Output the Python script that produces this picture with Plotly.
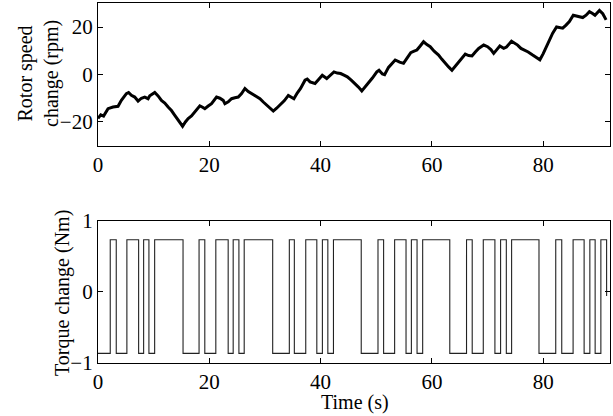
import plotly.graph_objects as go
from plotly.subplots import make_subplots

# Rotor speed change (rpm) versus time (s)
speed_t = [0.0, 0.5, 1.0, 1.8, 2.7, 3.6, 4.2, 5.1, 5.5, 6.0, 6.6, 7.2, 7.8, 8.4, 9.0, 9.3,
           10.2, 10.8, 11.4, 12.0, 12.6, 13.2, 13.8, 14.5, 15.2, 15.7, 16.2, 16.8, 17.4,
           18.3, 18.8, 19.2, 19.8, 20.4, 21.3, 21.9, 22.5, 22.8, 23.4, 24.0, 24.6, 25.2,
           25.8, 26.4, 27.0, 27.6, 28.3, 29.1, 29.7, 30.3, 31.0, 31.5, 32.1, 32.7, 33.5,
           34.2, 34.7, 35.2, 35.8, 36.4, 37.2, 37.6, 38.1, 39.0, 39.6, 40.3, 41.1, 41.7,
           42.4, 43.0, 43.6, 44.2, 44.8, 45.5, 46.2, 46.8, 47.4, 48.0, 48.6, 49.3, 50.1,
           50.5, 51.1, 51.5, 52.2, 52.8, 53.4, 54.2, 54.9, 55.5, 56.2, 56.8, 57.3, 57.9,
           58.5, 59.1, 59.7, 60.4, 61.2, 61.8, 62.4, 63.0, 63.6, 64.2, 64.8, 65.4, 66.0,
           66.6, 67.2, 67.8, 68.4, 69.3, 70.0, 70.6, 71.1, 71.7, 72.2, 72.9, 73.4, 74.3,
           74.9, 75.4, 76.0, 76.6, 77.3, 78.1, 78.8, 79.4, 80.0, 80.6, 81.2, 81.7, 82.4,
           83.0, 83.5, 84.1, 84.7, 85.4, 86.2, 87.1, 87.7, 88.3, 88.8, 89.3, 90.1, 90.7,
           91.3]
speed_rpm = [-18.5, -17.0, -17.5, -14.4, -13.7, -13.4, -10.9, -8.1, -7.6, -8.8, -9.5, -11.2,
             -10.0, -9.5, -10.2, -9.0, -7.6, -9.0, -10.9, -12.0, -13.7, -15.2, -17.2, -19.5,
             -21.8, -20.0, -18.6, -17.5, -15.8, -13.2, -13.8, -14.4, -13.3, -12.3, -9.5,
             -10.0, -10.9, -12.3, -11.5, -10.2, -9.8, -9.5, -8.0, -5.9, -7.2, -8.1, -9.0,
             -10.2, -11.6, -13.0, -14.5, -15.4, -14.2, -13.0, -11.0, -8.8, -9.6, -10.2,
             -7.8, -5.9, -2.4, -1.9, -3.1, -3.8, -2.2, -0.3, -1.7, -0.2, 1.1, 0.6, 0.4,
             -0.3, -1.0, -2.4, -3.8, -5.3, -6.9, -5.3, -3.8, -1.5, 1.1, 1.8, 0.2, -0.1,
             3.0, 4.5, 6.1, 5.2, 4.7, 6.8, 9.2, 9.8, 10.3, 12.0, 13.8, 12.6, 11.7, 9.8,
             8.2, 6.4, 4.7, 3.2, 1.8, 3.6, 5.3, 6.8, 8.6, 8.0, 7.8, 9.5, 11.0, 12.4, 11.7,
             10.5, 8.9, 10.6, 12.0, 11.0, 11.6, 14.0, 13.0, 12.4, 11.0, 10.3, 9.5, 8.2,
             7.2, 6.2, 8.8, 12.0, 15.0, 17.4, 20.0, 19.8, 19.5, 20.8, 22.3, 25.0, 24.6,
             24.0, 25.0, 26.5, 25.8, 25.0, 27.0, 25.6, 23.0]

# Torque change (Nm): step signal, each level held from its start time
torque_t = [0.0, 2.20, 3.28, 5.19, 7.30, 8.20, 9.15, 10.18, 15.28, 18.16, 19.19, 21.17,
            23.39, 24.29, 25.32, 26.27, 31.39, 34.38, 35.28, 37.33, 39.32, 40.32, 41.30,
            42.31, 47.30, 50.31, 51.32, 53.30, 55.35, 56.31, 57.33, 58.34, 63.21, 66.22,
            67.24, 69.23, 71.32, 72.34, 73.37, 74.32, 79.24, 82.25, 83.33, 85.37, 87.35,
            88.38, 89.33, 90.36, 91.39]
torque_nm = [-0.865, 0.733, -0.865, 0.733, -0.865, 0.733, -0.865, 0.733, -0.865, 0.733,
             -0.865, 0.733, -0.865, 0.733, -0.865, 0.733, -0.865, 0.733, -0.865, 0.733,
             -0.865, 0.733, -0.865, 0.733, -0.865, 0.733, -0.865, 0.733, -0.865, 0.733,
             -0.865, 0.733, -0.865, 0.733, -0.865, 0.733, -0.865, 0.733, -0.865, 0.733,
             -0.865, 0.733, -0.865, 0.733, -0.865, 0.733, -0.865, 0.733, -0.06]

x_ticks = [0, 20, 40, 60, 80]
speed_ticks = [-20, 0, 20]
torque_ticks = [-1, 0, 1]

FONT = "Liberation Serif, Times New Roman, serif"
W, H = 613, 416
ML, MR, MT, MB = 98, 3, 3, 53
PLOT_H = H - MT - MB
PLOT_W = W - ML - MR


def px_x(px):
    return (px - ML) / PLOT_W


def px_y(py):
    return (H - MB - py) / PLOT_H


def dom(lo, hi):
    return [max(0.0, min(1.0, lo)), max(0.0, min(1.0, hi))]


fig = make_subplots(rows=2, cols=1, vertical_spacing=0.0)

fig.add_trace(go.Scatter(x=speed_t, y=speed_rpm, mode="lines",
                         line=dict(color="black", width=3.0), hoverinfo="skip"),
              row=1, col=1)
fig.add_trace(go.Scatter(x=torque_t, y=torque_nm, mode="lines",
                         line=dict(color="#222222", width=1.1, shape="hv"), hoverinfo="skip"),
              row=2, col=1)

axis_style = dict(showline=True, linecolor="black", linewidth=1.2, mirror="allticks",
                  ticks="inside", ticklen=5, tickcolor="black", showgrid=False,
                  zeroline=False, automargin=False,
                  tickfont=dict(family=FONT, size=21, color="black"))

fig.update_xaxes(range=[0, 92], tickvals=x_ticks, domain=[0, 1], **axis_style)
fig.update_yaxes(**axis_style)
fig.update_yaxes(range=[-30, 30], tickvals=speed_ticks,
                 domain=dom(px_y(145.7), px_y(3.3)), row=1, col=1)
fig.update_yaxes(range=[-1, 1], tickvals=torque_ticks,
                 domain=dom(px_y(363.0), px_y(220.7)), row=2, col=1)

annotations = [
    dict(text="Rotor speed<br>change (rpm)", x=px_x(39), y=px_y(74),
         textangle=-90, font=dict(family=FONT, size=20, color="black")),
    dict(text="Torque change (Nm)", x=px_x(62), y=px_y(293),
         textangle=-90, font=dict(family=FONT, size=20, color="black")),
    dict(text="Time (s)", x=px_x(355), y=px_y(402),
         font=dict(family=FONT, size=20, color="black")),
]
for a in annotations:
    a.update(xref="paper", yref="paper", showarrow=False,
             xanchor="center", yanchor="middle")

fig.update_layout(
    width=W, height=H,
    margin=dict(l=ML, r=MR, t=MT, b=MB, pad=0, autoexpand=False),
    paper_bgcolor="white", plot_bgcolor="white",
    showlegend=False,
    annotations=annotations,
    font=dict(family=FONT, color="black"),
)

fig.write_html("out.html")
